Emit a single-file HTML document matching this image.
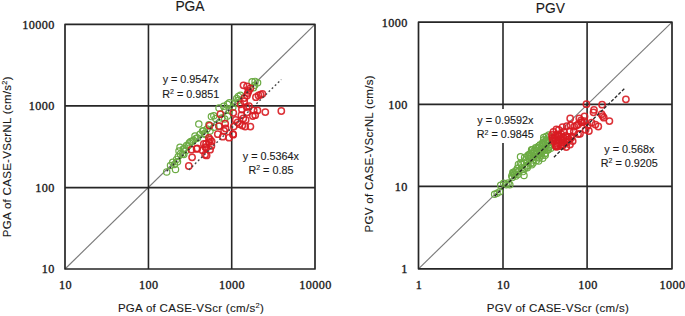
<!DOCTYPE html>
<html><head><meta charset="utf-8"><style>
html,body{margin:0;padding:0;background:#fff;}
svg{display:block;}
text{font-family:"Liberation Sans", sans-serif;fill:#1a1a1a;stroke:#1a1a1a;stroke-width:0.12px;}
.tk{font-size:12.2px;font-family:"Liberation Serif",serif;letter-spacing:0.4px;stroke-width:0.35px;}
.ti{font-size:13.8px;}
.at{font-size:11.5px;letter-spacing:0.3px;}
.eq{font-size:10.8px;}
</style></head><body>
<svg width="685" height="316" viewBox="0 0 685 316">
<rect width="685" height="316" fill="#fff"/>
<line x1="65.0" y1="269.0" x2="315.0" y2="24.4" stroke="#7a7a7a" stroke-width="1.15"/>
<line x1="148.45" y1="24.4" x2="148.45" y2="269.0" stroke="#262626" stroke-width="1.6"/>
<line x1="65.0" y1="187.65" x2="315.0" y2="187.65" stroke="#262626" stroke-width="1.6"/>
<line x1="231.70" y1="24.4" x2="231.70" y2="269.0" stroke="#262626" stroke-width="1.6"/>
<line x1="65.0" y1="105.85" x2="315.0" y2="105.85" stroke="#262626" stroke-width="1.6"/>
<rect x="65.0" y="24.4" width="250.0" height="244.6" fill="none" stroke="#262626" stroke-width="1.7" stroke-linejoin="round"/>
<line x1="418.5" y1="268.8" x2="672.0" y2="22.2" stroke="#7a7a7a" stroke-width="1.15"/>
<line x1="503.00" y1="22.2" x2="503.00" y2="268.8" stroke="#262626" stroke-width="1.6"/>
<line x1="418.5" y1="186.35" x2="672.0" y2="186.35" stroke="#262626" stroke-width="1.6"/>
<line x1="587.10" y1="22.2" x2="587.10" y2="268.8" stroke="#262626" stroke-width="1.6"/>
<line x1="418.5" y1="104.40" x2="672.0" y2="104.40" stroke="#262626" stroke-width="1.6"/>
<rect x="418.5" y="22.2" width="253.5" height="246.60000000000002" fill="none" stroke="#262626" stroke-width="1.7" stroke-linejoin="round"/>
<text x="65.40" y="288.9" text-anchor="middle" class="tk">10</text>
<text x="148.73" y="288.9" text-anchor="middle" class="tk">100</text>
<text x="232.07" y="288.9" text-anchor="middle" class="tk">1000</text>
<text x="315.40" y="288.9" text-anchor="middle" class="tk">10000</text>
<text x="54.7" y="273.40" text-anchor="end" class="tk">10</text>
<text x="54.7" y="191.87" text-anchor="end" class="tk">100</text>
<text x="54.7" y="110.33" text-anchor="end" class="tk">1000</text>
<text x="54.7" y="28.80" text-anchor="end" class="tk">10000</text>
<text x="418.90" y="288.9" text-anchor="middle" class="tk">1</text>
<text x="503.40" y="288.9" text-anchor="middle" class="tk">10</text>
<text x="587.90" y="288.9" text-anchor="middle" class="tk">100</text>
<text x="672.40" y="288.9" text-anchor="middle" class="tk">1000</text>
<text x="407.7" y="273.20" text-anchor="end" class="tk">1</text>
<text x="407.7" y="191.00" text-anchor="end" class="tk">10</text>
<text x="407.7" y="108.80" text-anchor="end" class="tk">100</text>
<text x="407.7" y="26.60" text-anchor="end" class="tk">1000</text>
<text x="190" y="10.8" text-anchor="middle" class="ti">PGA</text>
<text x="550.3" y="12.7" text-anchor="middle" class="ti">PGV</text>
<text x="191" y="311.8" text-anchor="middle" class="at">PGA of CASE-VScr (cm/s<tspan dy="-4.2" font-size="7.5">2</tspan><tspan dy="4.2">)</tspan></text>
<text x="557.9" y="311.9" text-anchor="middle" class="at">PGV of CASE-VScr (cm/s)</text>
<text transform="translate(10.7,156.6) rotate(-90)" text-anchor="middle" class="at">PGA of CASE-VScrNL (cm/s<tspan dy="-4.2" font-size="7.5">2</tspan><tspan dy="4.2">)</tspan></text>
<text transform="translate(373.3,153.8) rotate(-90)" text-anchor="middle" class="at">PGV of CASE-VScrNL (cm/s)</text>
<g fill="none" stroke="#6cab44" stroke-width="1.2" stroke-opacity="1"><circle cx="166.7" cy="171.9" r="3.15"/><circle cx="175.5" cy="169.4" r="3.15"/><circle cx="170.5" cy="165.5" r="3.15"/><circle cx="172.7" cy="162.2" r="3.15"/><circle cx="176.6" cy="159.4" r="3.15"/><circle cx="178.3" cy="156.6" r="3.15"/><circle cx="180.5" cy="153.9" r="3.15"/><circle cx="183.8" cy="154.4" r="3.15"/><circle cx="180" cy="147.2" r="3.15"/><circle cx="183.3" cy="148.9" r="3.15"/><circle cx="186.6" cy="145.5" r="3.15"/><circle cx="189.4" cy="142.8" r="3.15"/><circle cx="192.1" cy="141.7" r="3.15"/><circle cx="177.5" cy="161.7" r="3.15"/><circle cx="182.6" cy="154.1" r="3.15"/><circle cx="184.5" cy="148.4" r="3.15"/><circle cx="190.8" cy="141.5" r="3.15"/><circle cx="193.4" cy="140.2" r="3.15"/><circle cx="196" cy="138.5" r="3.15"/><circle cx="198.8" cy="124" r="3.15"/><circle cx="200" cy="134.2" r="3.15"/><circle cx="202.6" cy="131" r="3.15"/><circle cx="204.5" cy="133.5" r="3.15"/><circle cx="197.5" cy="138" r="3.15"/><circle cx="203.5" cy="130.7" r="3.15"/><circle cx="205.4" cy="134.5" r="3.15"/><circle cx="208.9" cy="124.7" r="3.15"/><circle cx="214" cy="127.2" r="3.15"/><circle cx="219" cy="126.3" r="3.15"/><circle cx="232.8" cy="107.3" r="3.15"/><circle cx="235.5" cy="103.2" r="3.15"/><circle cx="240.4" cy="95.3" r="3.15"/><circle cx="207" cy="129" r="3.15"/><circle cx="210" cy="131" r="3.15"/><circle cx="174.5" cy="164.5" r="3.15"/><circle cx="186" cy="150.5" r="3.15"/><circle cx="188" cy="146" r="3.15"/><circle cx="179" cy="151" r="3.15"/><circle cx="195" cy="136" r="3.15"/><circle cx="238" cy="100.5" r="3.15"/><circle cx="252.1" cy="81.8" r="3.15"/><circle cx="255.1" cy="81.4" r="3.15"/><circle cx="257.6" cy="82.7" r="3.15"/><circle cx="254.7" cy="85.3" r="3.15"/><circle cx="253.4" cy="87.8" r="3.15"/><circle cx="238.4" cy="96.4" r="3.15"/><circle cx="236.7" cy="98.5" r="3.15"/><circle cx="219" cy="108.1" r="3.15"/><circle cx="211.4" cy="116.6" r="3.15"/><circle cx="213.8" cy="115.7" r="3.15"/><circle cx="215.7" cy="118.5" r="3.15"/><circle cx="223.7" cy="106.2" r="3.15"/><circle cx="227.5" cy="104.3" r="3.15"/><circle cx="229.4" cy="102.8" r="3.15"/><circle cx="225.6" cy="110.4" r="3.15"/><circle cx="227.5" cy="116.1" r="3.15"/><circle cx="224.7" cy="119" r="3.15"/><circle cx="221.8" cy="118" r="3.15"/><circle cx="229.4" cy="110.4" r="3.15"/></g>
<g fill="none" stroke="#d81c22" stroke-width="1.5" stroke-opacity="0.9"><circle cx="281.3" cy="111" r="3.15"/><circle cx="265.3" cy="112.1" r="3.15"/><circle cx="224.1" cy="131" r="3.15"/><circle cx="217.8" cy="134.2" r="3.15"/><circle cx="222.8" cy="136.7" r="3.15"/><circle cx="233" cy="134.2" r="3.15"/><circle cx="208.9" cy="138" r="3.15"/><circle cx="229.1" cy="137.7" r="3.15"/><circle cx="210.1" cy="139.6" r="3.15"/><circle cx="208.9" cy="142.1" r="3.15"/><circle cx="203.8" cy="144" r="3.15"/><circle cx="211.4" cy="145.9" r="3.15"/><circle cx="206.3" cy="147.8" r="3.15"/><circle cx="210.1" cy="149.7" r="3.15"/><circle cx="202.5" cy="150.3" r="3.15"/><circle cx="205.1" cy="154.7" r="3.15"/><circle cx="211.7" cy="141.5" r="3.15"/><circle cx="206" cy="144" r="3.15"/><circle cx="197.2" cy="148.4" r="3.15"/><circle cx="191.5" cy="149.7" r="3.15"/><circle cx="205.4" cy="147.2" r="3.15"/><circle cx="206.6" cy="155.4" r="3.15"/><circle cx="192.1" cy="157.3" r="3.15"/><circle cx="188.8" cy="166" r="3.15"/><circle cx="196.6" cy="148.9" r="3.15"/><circle cx="233.2" cy="134.7" r="3.15"/><circle cx="243.5" cy="85.3" r="3.15"/><circle cx="247" cy="86.5" r="3.15"/><circle cx="250.4" cy="88.3" r="3.15"/><circle cx="248.7" cy="90.8" r="3.15"/><circle cx="247.8" cy="93" r="3.15"/><circle cx="247" cy="95.5" r="3.15"/><circle cx="255.9" cy="97.2" r="3.15"/><circle cx="258.5" cy="95.5" r="3.15"/><circle cx="260.6" cy="94.7" r="3.15"/><circle cx="262.4" cy="93.8" r="3.15"/><circle cx="233.3" cy="112.8" r="3.15"/><circle cx="240.4" cy="104.3" r="3.15"/><circle cx="244.2" cy="101.4" r="3.15"/><circle cx="241.9" cy="109.5" r="3.15"/><circle cx="246.6" cy="107.1" r="3.15"/><circle cx="249" cy="106.2" r="3.15"/><circle cx="247.1" cy="112.3" r="3.15"/><circle cx="241.4" cy="115.2" r="3.15"/><circle cx="243.3" cy="118.5" r="3.15"/><circle cx="245.7" cy="119.9" r="3.15"/><circle cx="235.7" cy="119.9" r="3.15"/><circle cx="237.6" cy="122.3" r="3.15"/><circle cx="239.5" cy="124.2" r="3.15"/><circle cx="242.3" cy="125.6" r="3.15"/><circle cx="245.2" cy="126.6" r="3.15"/><circle cx="250.4" cy="126.6" r="3.15"/><circle cx="252.8" cy="116.1" r="3.15"/><circle cx="255.2" cy="115.2" r="3.15"/><circle cx="257.5" cy="110.4" r="3.15"/><circle cx="253.7" cy="110.4" r="3.15"/><circle cx="233.8" cy="126.6" r="3.15"/><circle cx="244.4" cy="98.1" r="3.15"/><circle cx="220.4" cy="114.2" r="3.15"/><circle cx="209.5" cy="125.6" r="3.15"/><circle cx="219" cy="126.1" r="3.15"/><circle cx="225.2" cy="123.7" r="3.15"/><circle cx="225.6" cy="128.5" r="3.15"/></g>
<g fill="none" stroke="#6cab44" stroke-width="1.2" stroke-opacity="1"><circle cx="494.6" cy="194.3" r="3.15"/><circle cx="497.1" cy="193.3" r="3.15"/><circle cx="499.6" cy="191.8" r="3.15"/><circle cx="500.7" cy="185.2" r="3.15"/><circle cx="503.7" cy="183.2" r="3.15"/><circle cx="506.2" cy="184.7" r="3.15"/><circle cx="509.8" cy="184.7" r="3.15"/><circle cx="508.2" cy="183.1" r="3.15"/><circle cx="512.3" cy="177.6" r="3.15"/><circle cx="514.3" cy="175.1" r="3.15"/><circle cx="512.8" cy="172.6" r="3.15"/><circle cx="516.9" cy="172" r="3.15"/><circle cx="511.7" cy="176.1" r="3.15"/><circle cx="513.5" cy="173.1" r="3.15"/><circle cx="524" cy="175.5" r="3.15"/><circle cx="520.5" cy="156.8" r="3.15"/><circle cx="524.6" cy="157.4" r="3.15"/><circle cx="531.6" cy="149.8" r="3.15"/><circle cx="538.6" cy="160.9" r="3.15"/><circle cx="543.7" cy="137.6" r="3.15"/><circle cx="546.2" cy="136.6" r="3.15"/><circle cx="548.8" cy="135.1" r="3.15"/><circle cx="532.6" cy="149.7" r="3.15"/><circle cx="535.6" cy="147.7" r="3.15"/><circle cx="539.2" cy="145.2" r="3.15"/><circle cx="542.2" cy="143.2" r="3.15"/><circle cx="545.2" cy="141.2" r="3.15"/><circle cx="549.3" cy="140.1" r="3.15"/><circle cx="550.8" cy="148.2" r="3.15"/><circle cx="548.3" cy="149.7" r="3.15"/><circle cx="545.2" cy="153.3" r="3.15"/><circle cx="541.2" cy="155.8" r="3.15"/><circle cx="537.1" cy="157.3" r="3.15"/><circle cx="528" cy="155.3" r="3.15"/><circle cx="531.1" cy="153.3" r="3.15"/><circle cx="545.2" cy="155.3" r="3.15"/><circle cx="542.7" cy="158.3" r="3.15"/><circle cx="548.8" cy="137.7" r="3.15"/><circle cx="543.7" cy="139.8" r="3.15"/><circle cx="546.6" cy="140.0" r="3.15"/><circle cx="549.5" cy="140.5" r="3.15"/><circle cx="542.6" cy="144.1" r="3.15"/><circle cx="544.1" cy="143.7" r="3.15"/><circle cx="548.0" cy="142.3" r="3.15"/><circle cx="539.5" cy="145.6" r="3.15"/><circle cx="543.6" cy="145.0" r="3.15"/><circle cx="545.6" cy="146.6" r="3.15"/><circle cx="549.4" cy="146.8" r="3.15"/><circle cx="536.5" cy="148.6" r="3.15"/><circle cx="538.7" cy="147.5" r="3.15"/><circle cx="541.6" cy="148.8" r="3.15"/><circle cx="543.9" cy="148.8" r="3.15"/><circle cx="548.5" cy="147.6" r="3.15"/><circle cx="534.0" cy="151.0" r="3.15"/><circle cx="536.7" cy="150.9" r="3.15"/><circle cx="539.9" cy="151.6" r="3.15"/><circle cx="543.0" cy="151.1" r="3.15"/><circle cx="547.2" cy="150.3" r="3.15"/><circle cx="529.7" cy="154.0" r="3.15"/><circle cx="533.0" cy="153.4" r="3.15"/><circle cx="535.0" cy="154.5" r="3.15"/><circle cx="539.5" cy="154.0" r="3.15"/><circle cx="541.2" cy="153.3" r="3.15"/><circle cx="545.1" cy="153.4" r="3.15"/><circle cx="528.1" cy="156.4" r="3.15"/><circle cx="530.3" cy="156.7" r="3.15"/><circle cx="533.6" cy="156.7" r="3.15"/><circle cx="537.9" cy="156.1" r="3.15"/><circle cx="539.1" cy="157.9" r="3.15"/><circle cx="526.0" cy="159.2" r="3.15"/><circle cx="529.7" cy="158.7" r="3.15"/><circle cx="533.1" cy="160.1" r="3.15"/><circle cx="536.3" cy="160.6" r="3.15"/><circle cx="520.4" cy="163.3" r="3.15"/><circle cx="524.1" cy="163.1" r="3.15"/><circle cx="527.1" cy="161.8" r="3.15"/><circle cx="530.7" cy="163.2" r="3.15"/><circle cx="533.1" cy="163.1" r="3.15"/><circle cx="518.4" cy="164.4" r="3.15"/><circle cx="521.8" cy="164.2" r="3.15"/><circle cx="526.9" cy="166.0" r="3.15"/><circle cx="528.1" cy="165.2" r="3.15"/><circle cx="531.8" cy="164.8" r="3.15"/><circle cx="517.5" cy="168.2" r="3.15"/><circle cx="521.6" cy="167.7" r="3.15"/><circle cx="524.9" cy="168.3" r="3.15"/><circle cx="527.2" cy="167.7" r="3.15"/><circle cx="515.7" cy="170.7" r="3.15"/><circle cx="518.6" cy="171.5" r="3.15"/><circle cx="523.0" cy="171.6" r="3.15"/><circle cx="513.8" cy="174.3" r="3.15"/><circle cx="518.2" cy="174.3" r="3.15"/><circle cx="515.9" cy="176.1" r="3.15"/></g>
<g fill="none" stroke="#d81c22" stroke-width="1.5" stroke-opacity="0.9"><circle cx="625.9" cy="99.3" r="3.15"/><circle cx="586.4" cy="104.2" r="3.15"/><circle cx="602.1" cy="104.7" r="3.15"/><circle cx="594" cy="109.9" r="3.15"/><circle cx="593.5" cy="112.3" r="3.15"/><circle cx="601.6" cy="114.2" r="3.15"/><circle cx="602.7" cy="116.1" r="3.15"/><circle cx="603.8" cy="117.7" r="3.15"/><circle cx="609.4" cy="121.1" r="3.15"/><circle cx="570.2" cy="118.4" r="3.15"/><circle cx="579.3" cy="118.4" r="3.15"/><circle cx="584.5" cy="116.5" r="3.15"/><circle cx="591.6" cy="122.7" r="3.15"/><circle cx="595.4" cy="124.6" r="3.15"/><circle cx="598.3" cy="126.5" r="3.15"/><circle cx="582.1" cy="122.2" r="3.15"/><circle cx="576.4" cy="125.6" r="3.15"/><circle cx="587.8" cy="125.6" r="3.15"/><circle cx="588.9" cy="131" r="3.15"/><circle cx="581.1" cy="120.5" r="3.15"/><circle cx="580" cy="133.8" r="3.15"/><circle cx="553.4" cy="132" r="3.15"/><circle cx="558.8" cy="129.8" r="3.15"/><circle cx="562.5" cy="127.1" r="3.15"/><circle cx="566.8" cy="126.1" r="3.15"/><circle cx="570.6" cy="125.5" r="3.15"/><circle cx="574.3" cy="126.6" r="3.15"/><circle cx="578.1" cy="124.5" r="3.15"/><circle cx="581.3" cy="122.3" r="3.15"/><circle cx="584.6" cy="121.2" r="3.15"/><circle cx="564.1" cy="132" r="3.15"/><circle cx="569.5" cy="131.4" r="3.15"/><circle cx="573.8" cy="131.4" r="3.15"/><circle cx="578.1" cy="134.1" r="3.15"/><circle cx="554.5" cy="137.4" r="3.15"/><circle cx="558.8" cy="136.8" r="3.15"/><circle cx="563.1" cy="137.4" r="3.15"/><circle cx="567.4" cy="136.8" r="3.15"/><circle cx="571.7" cy="136.3" r="3.15"/><circle cx="572.7" cy="141.1" r="3.15"/><circle cx="553.4" cy="141.1" r="3.15"/><circle cx="557.1" cy="143.8" r="3.15"/><circle cx="562" cy="142.7" r="3.15"/><circle cx="566.8" cy="142.2" r="3.15"/><circle cx="566.3" cy="147" r="3.15"/><circle cx="560.9" cy="146" r="3.15"/><circle cx="556.6" cy="146.5" r="3.15"/><circle cx="585.6" cy="129.8" r="3.15"/><circle cx="556.4" cy="129.5" r="3.15"/><circle cx="552.3" cy="138.1" r="3.15"/><circle cx="556.4" cy="146.7" r="3.15"/><circle cx="556" cy="140" r="3.15"/><circle cx="569" cy="139.5" r="3.15"/><circle cx="563" cy="145" r="3.15"/><circle cx="570" cy="144.5" r="3.15"/><circle cx="552" cy="135" r="3.15"/><circle cx="561" cy="140" r="3.15"/><circle cx="559" cy="143" r="3.15"/><circle cx="557.3" cy="134.4" r="3.15"/><circle cx="561.5" cy="134.3" r="3.15"/><circle cx="555.4" cy="135.6" r="3.15"/><circle cx="558.5" cy="136.0" r="3.15"/><circle cx="563.1" cy="137.0" r="3.15"/><circle cx="565.9" cy="135.9" r="3.15"/><circle cx="571.1" cy="138.1" r="3.15"/><circle cx="552.8" cy="139.6" r="3.15"/><circle cx="557.3" cy="139.5" r="3.15"/><circle cx="561.2" cy="139.5" r="3.15"/><circle cx="563.7" cy="141.8" r="3.15"/><circle cx="568.7" cy="139.7" r="3.15"/><circle cx="555.7" cy="145.6" r="3.15"/><circle cx="558.0" cy="145.9" r="3.15"/><circle cx="563.1" cy="145.0" r="3.15"/></g>
<line x1="166.7" y1="171.14" x2="257.7" y2="82.10" stroke="#333" stroke-width="1.4" stroke-dasharray="1.9 2.4"/>
<line x1="188.8" y1="169.93" x2="281.3" y2="79.43" stroke="#4a4a4a" stroke-width="1.4" stroke-dasharray="1.9 2.4"/>
<line x1="494.6" y1="196.26" x2="552" y2="140.42" stroke="#222" stroke-width="1.3" stroke-dasharray="3.2 1.8"/>
<line x1="553.9" y1="157.28" x2="625.5" y2="87.63" stroke="#2a2a2a" stroke-width="1.3" stroke-dasharray="3.2 1.8"/>
<text x="190.7" y="83.3" text-anchor="middle" class="eq">y = 0.9547x</text>
<text x="190.7" y="97.5" text-anchor="middle" class="eq">R<tspan dy="-3.8" font-size="7">2</tspan><tspan dy="3.8"> = 0.9851</tspan></text>
<text x="270.9" y="160" text-anchor="middle" class="eq">y = 0.5364x</text>
<text x="270.9" y="174" text-anchor="middle" class="eq">R<tspan dy="-3.8" font-size="7">2</tspan><tspan dy="3.8"> = 0.85</tspan></text>
<rect x="474" y="109" width="63" height="34" fill="#fff"/>
<text x="505.3" y="123.8" text-anchor="middle" class="eq">y = 0.9592x</text>
<text x="505.3" y="138.4" text-anchor="middle" class="eq">R<tspan dy="-3.8" font-size="7">2</tspan><tspan dy="3.8"> = 0.9845</tspan></text>
<text x="629.3" y="152.5" text-anchor="middle" class="eq">y = 0.568x</text>
<text x="629.3" y="166.8" text-anchor="middle" class="eq">R<tspan dy="-3.8" font-size="7">2</tspan><tspan dy="3.8"> = 0.9205</tspan></text>
</svg></body></html>
